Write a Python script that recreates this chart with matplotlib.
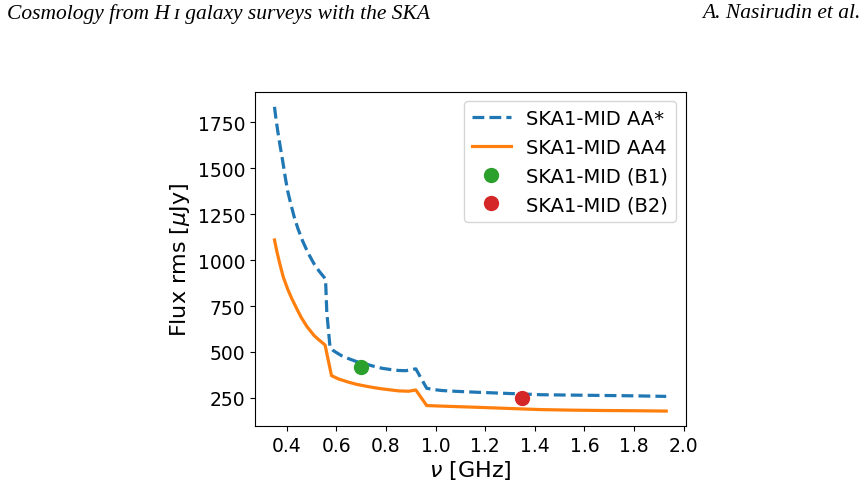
import matplotlib
matplotlib.use("Agg")
import matplotlib.pyplot as plt

# SKA1-MID AA* sensitivity (dashed)
nu_aastar = [0.35, 0.356, 0.363, 0.373, 0.383, 0.393, 0.403, 0.415, 0.430,
             0.445, 0.463, 0.485, 0.510, 0.530, 0.550, 0.556,
             0.561, 0.574, 0.585, 0.597, 0.620, 0.650, 0.680, 0.717, 0.750,
             0.784, 0.820, 0.851, 0.880, 0.920,
             0.964, 1.000, 1.024, 1.090, 1.158, 1.292, 1.425, 1.550, 1.679,
             1.800, 1.930]
flux_aastar = [1835, 1770, 1704, 1620, 1541, 1455, 1378, 1310, 1233,
               1170, 1106, 1040, 979, 940, 907, 895,
               716, 526, 510, 499, 480, 463, 448, 435, 422,
               411, 404, 399, 398, 408,
               302, 294, 290, 285, 281, 274, 267, 265, 263,
               261, 258]

# SKA1-MID AA4 sensitivity (solid)
nu_aa4 = [0.35, 0.360, 0.370, 0.385, 0.403, 0.420, 0.440, 0.457, 0.480,
          0.510, 0.530, 0.554,
          0.580, 0.610, 0.650, 0.680, 0.717, 0.750, 0.784, 0.820, 0.851,
          0.891, 0.920,
          0.964, 1.024, 1.090, 1.158, 1.300, 1.425, 1.550, 1.680, 1.800,
          1.930]
flux_aa4 = [1110, 1045, 988, 910, 843, 790, 735, 690, 640,
            589, 565, 538,
            371, 352, 335, 324, 314, 306, 299, 293, 288,
            286, 293,
            208, 205, 202, 199, 192, 186, 183, 181, 180,
            178]

# single-band points
b1_nu, b1_flux = [0.70], [417]
b2_nu, b2_flux = [1.35], [250]

fig = plt.figure(figsize=(8.67, 4.85), dpi=100)
ax = fig.add_axes([0.294, 0.119, 0.497, 0.690])

ax.plot(nu_aastar, flux_aastar, "--", color="C0", lw=2.3, label="SKA1-MID AA*")
ax.plot(nu_aa4, flux_aa4, "-", color="C1", lw=2.3, label="SKA1-MID AA4")
ax.plot(b1_nu, b1_flux, "o", color="C2", ms=10, label="SKA1-MID (B1)")
ax.plot(b2_nu, b2_flux, "o", color="C3", ms=10, label="SKA1-MID (B2)")

ax.set_xticks([0.4, 0.6, 0.8, 1.0, 1.2, 1.4, 1.6, 1.8, 2.0])
ax.set_yticks([250, 500, 750, 1000, 1250, 1500, 1750])
ax.tick_params(labelsize=13.5)
ax.set_xlabel(r"$\nu$ [GHz]", fontsize=16, labelpad=2)
ax.set_ylabel(r"Flux rms [$\mu$Jy]", fontsize=16)
ax.legend(loc="upper right", fontsize=14)

# page header of the paper
fig.text(0.008, 0.972, "Cosmology from H\u202f\u026a galaxy surveys with the SKA",
         family=["Liberation Serif", "DejaVu Serif"], style="italic",
         fontsize=15.5, va="center", ha="left")
fig.text(0.993, 0.972, "A. Nasirudin et al.",
         family=["Liberation Serif", "DejaVu Serif"], style="italic",
         fontsize=15.5, va="center", ha="right")

fig.savefig("out.png", dpi=100)
